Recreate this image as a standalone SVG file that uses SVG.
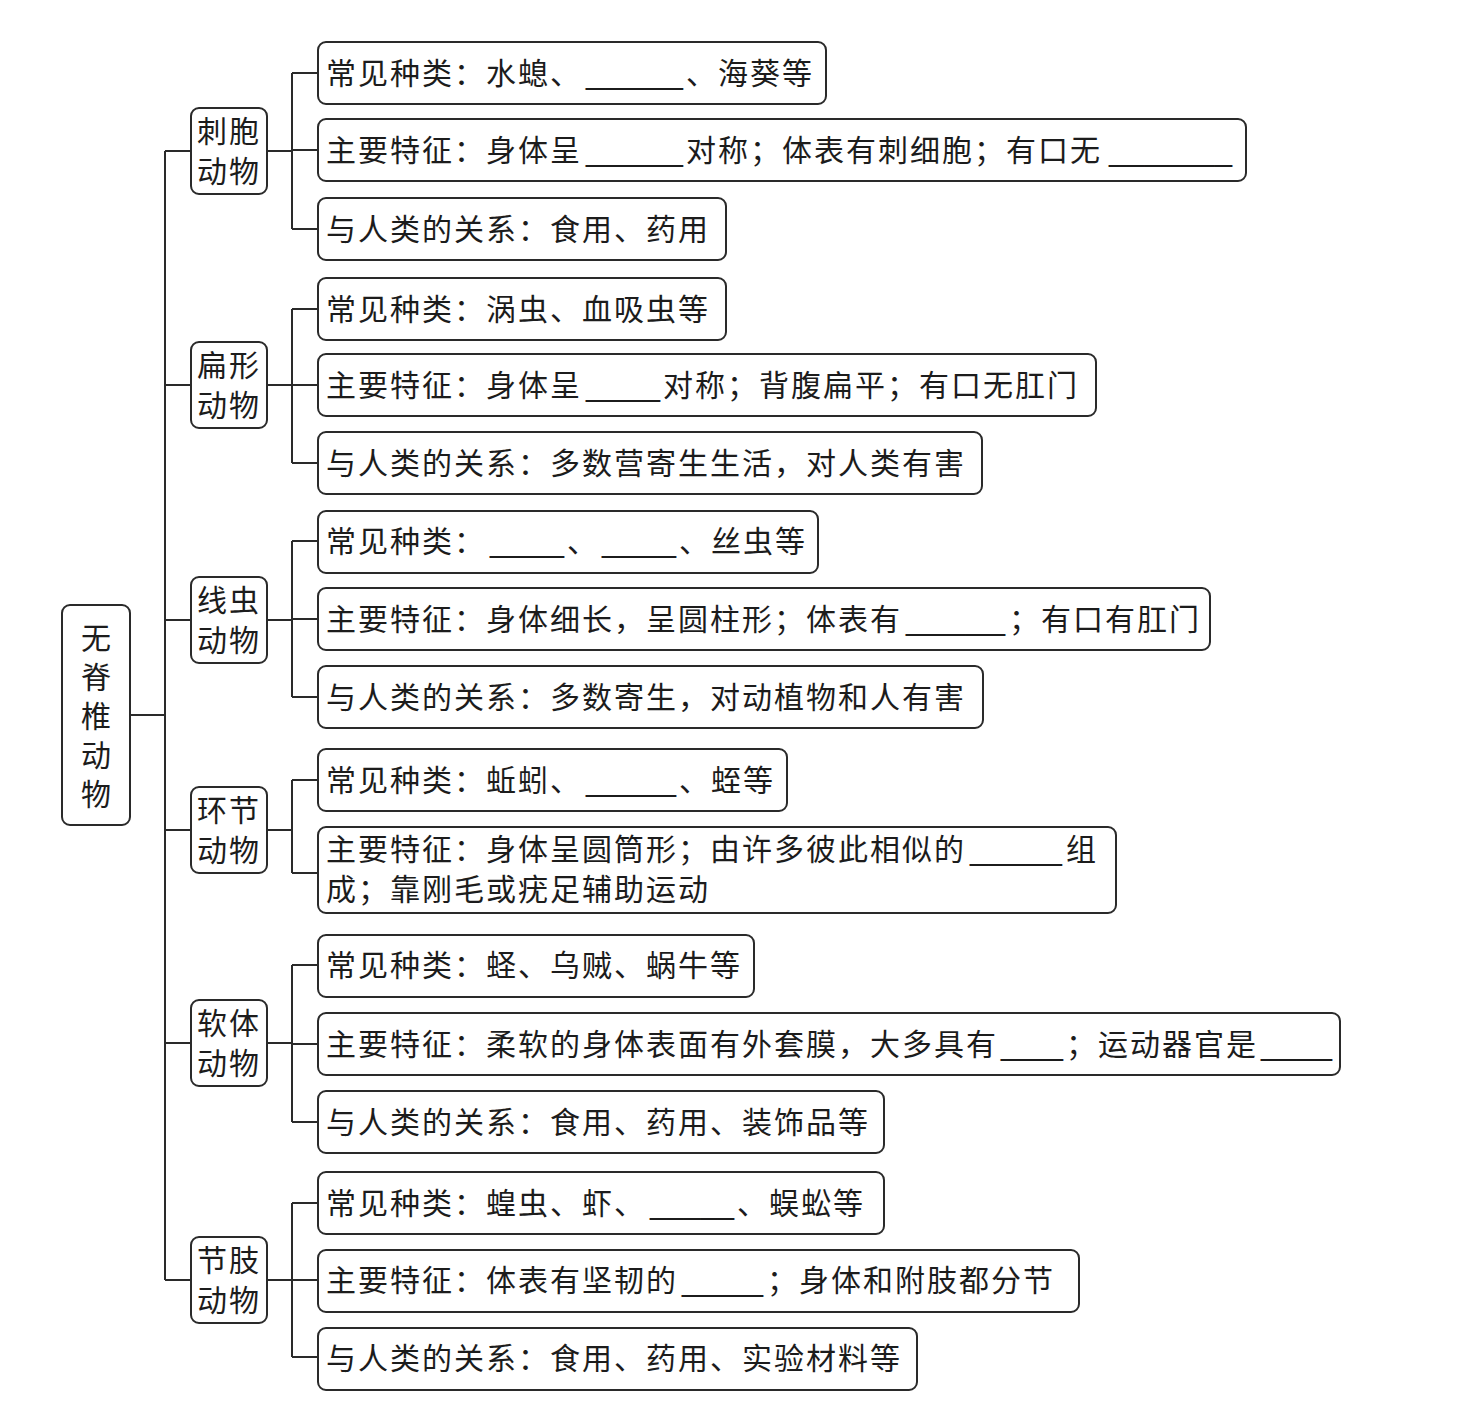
<svg xmlns="http://www.w3.org/2000/svg" width="1473" height="1428" viewBox="0 0 1473 1428">
<style>
.box{fill:#fff;stroke:#2a2a2a;stroke-width:2}
.conn{fill:none;stroke:#2a2a2a;stroke-width:2}
.t{font-family:"Noto Sans CJK SC","Noto Sans CJK TC",sans-serif;font-size:30px;letter-spacing:2px;fill:#1c1c1c}
.b{font-family:"Liberation Sans",sans-serif;letter-spacing:0}
.v{writing-mode:vertical-rl;letter-spacing:9px}
</style>
<rect width="1473" height="1428" fill="#fff"/>
<g id="connectors">
<path class="conn" d="M130 715H165M165 151V1280"/>
<path class="conn" d="M165 151H191M267 151H292M292 73V229M292 73H318M292 150H318M292 229H318"/>
<path class="conn" d="M165 385H191M267 385H292M292 309V463M292 309H318M292 385H318M292 463H318"/>
<path class="conn" d="M165 620H191M267 620H292M292 541V697M292 541H318M292 619H318M292 697H318"/>
<path class="conn" d="M165 830H191M267 830H292M292 780V873M292 780H318M292 873H318"/>
<path class="conn" d="M165 1043H191M267 1043H292M292 965V1122M292 965H318M292 1044H318M292 1122H318"/>
<path class="conn" d="M165 1280H191M267 1280H292M292 1203V1357M292 1203H318M292 1280H318M292 1357H318"/>
</g>
<g id="root">
<rect class="box" x="62" y="605" width="68" height="220" rx="8"/>
<text class="t v" x="96" y="623">无脊椎动物</text>
</g>
<g id="cat-cibao">
<rect class="box" x="191" y="108" width="76" height="86" rx="8"/>
<text class="t" x="197" y="142">刺胞</text><text class="t" x="197" y="182">动物</text>
</g>
<g id="cat-bianxing">
<rect class="box" x="191" y="342" width="76" height="86" rx="8"/>
<text class="t" x="197" y="376">扁形</text><text class="t" x="197" y="416">动物</text>
</g>
<g id="cat-xianchong">
<rect class="box" x="191" y="577" width="76" height="86" rx="8"/>
<text class="t" x="197" y="611">线虫</text><text class="t" x="197" y="651">动物</text>
</g>
<g id="cat-huanjie">
<rect class="box" x="191" y="787" width="76" height="86" rx="8"/>
<text class="t" x="197" y="821">环节</text><text class="t" x="197" y="861">动物</text>
</g>
<g id="cat-ruanti">
<rect class="box" x="191" y="1000" width="76" height="86" rx="8"/>
<text class="t" x="197" y="1034">软体</text><text class="t" x="197" y="1074">动物</text>
</g>
<g id="cat-jiezhi">
<rect class="box" x="191" y="1237" width="76" height="86" rx="8"/>
<text class="t" x="197" y="1271">节肢</text><text class="t" x="197" y="1311">动物</text>
</g>

<g id="cibao-1">
<rect class="box" x="318" y="42" width="508" height="62" rx="8"/>
<text class="t" x="326" y="84">常见种类：水螅、<tspan class="b" x="586" textLength="97" lengthAdjust="spacingAndGlyphs">_____</tspan><tspan x="686">、海葵等</tspan></text>
</g>
<g id="cibao-2">
<rect class="box" x="318" y="119" width="928" height="62" rx="8"/>
<text class="t" x="326" y="161">主要特征：身体呈<tspan class="b" x="586" textLength="97" lengthAdjust="spacingAndGlyphs">_____</tspan><tspan x="686">对称；体表有刺细胞；有口无</tspan><tspan class="b" x="1109" textLength="123" lengthAdjust="spacingAndGlyphs">_______</tspan></text>
</g>
<g id="cibao-3">
<rect class="box" x="318" y="198" width="408" height="62" rx="8"/>
<text class="t" x="326" y="240">与人类的关系：食用、药用</text>
</g>

<g id="bianxing-1">
<rect class="box" x="318" y="278" width="408" height="62" rx="8"/>
<text class="t" x="326" y="320">常见种类：涡虫、血吸虫等</text>
</g>
<g id="bianxing-2">
<rect class="box" x="318" y="354" width="778" height="62" rx="8"/>
<text class="t" x="326" y="396">主要特征：身体呈<tspan class="b" x="586" textLength="74" lengthAdjust="spacingAndGlyphs">____</tspan><tspan x="663">对称；背腹扁平；有口无肛门</tspan></text>
</g>
<g id="bianxing-3">
<rect class="box" x="318" y="432" width="664" height="62" rx="8"/>
<text class="t" x="326" y="474">与人类的关系：多数营寄生生活，对人类有害</text>
</g>

<g id="xianchong-1">
<rect class="box" x="318" y="511" width="500" height="62" rx="8"/>
<text class="t" x="326" y="552">常见种类：<tspan class="b" x="490" textLength="74" lengthAdjust="spacingAndGlyphs">____</tspan><tspan x="567">、</tspan><tspan class="b" x="602" textLength="74" lengthAdjust="spacingAndGlyphs">____</tspan><tspan x="679">、丝虫等</tspan></text>
</g>
<g id="xianchong-2">
<rect class="box" x="318" y="588" width="892" height="62" rx="8"/>
<text class="t" x="326" y="630">主要特征：身体细长，呈圆柱形；体表有<tspan class="b" x="906" textLength="99" lengthAdjust="spacingAndGlyphs">_____</tspan><tspan x="1009">；有口有肛门</tspan></text>
</g>
<g id="xianchong-3">
<rect class="box" x="318" y="666" width="665" height="62" rx="8"/>
<text class="t" x="326" y="708">与人类的关系：多数寄生，对动植物和人有害</text>
</g>

<g id="huanjie-1">
<rect class="box" x="318" y="749" width="469" height="62" rx="8"/>
<text class="t" x="326" y="791">常见种类：蚯蚓、<tspan class="b" x="586" textLength="90" lengthAdjust="spacingAndGlyphs">_____</tspan><tspan x="679">、蛭等</tspan></text>
</g>
<g id="huanjie-2">
<rect class="box" x="318" y="827" width="798" height="86" rx="8"/>
<text class="t" x="326" y="860">主要特征：身体呈圆筒形；由许多彼此相似的<tspan class="b" x="970" textLength="92" lengthAdjust="spacingAndGlyphs">_____</tspan><tspan x="1066">组</tspan></text>
<text class="t" x="326" y="900">成；靠刚毛或疣足辅助运动</text>
</g>

<g id="ruanti-1">
<rect class="box" x="318" y="935" width="436" height="62" rx="8"/>
<text class="t" x="326" y="976">常见种类：蛏、乌贼、蜗牛等</text>
</g>
<g id="ruanti-2">
<rect class="box" x="318" y="1013" width="1022" height="62" rx="8"/>
<text class="t" x="326" y="1055">主要特征：柔软的身体表面有外套膜，大多具有<tspan class="b" x="1001" textLength="62" lengthAdjust="spacingAndGlyphs">___</tspan><tspan x="1066">；运动器官是</tspan><tspan class="b" x="1261" textLength="71" lengthAdjust="spacingAndGlyphs">____</tspan></text>
</g>
<g id="ruanti-3">
<rect class="box" x="318" y="1091" width="566" height="62" rx="8"/>
<text class="t" x="326" y="1133">与人类的关系：食用、药用、装饰品等</text>
</g>

<g id="jiezhi-1">
<rect class="box" x="318" y="1172" width="566" height="62" rx="8"/>
<text class="t" x="326" y="1214">常见种类：蝗虫、虾、<tspan class="b" x="650" textLength="84" lengthAdjust="spacingAndGlyphs">_____</tspan><tspan x="737">、蜈蚣等</tspan></text>
</g>
<g id="jiezhi-2">
<rect class="box" x="318" y="1250" width="761" height="62" rx="8"/>
<text class="t" x="326" y="1291">主要特征：体表有坚韧的<tspan class="b" x="682" textLength="81" lengthAdjust="spacingAndGlyphs">____</tspan><tspan x="767">；身体和附肢都分节</tspan></text>
</g>
<g id="jiezhi-3">
<rect class="box" x="318" y="1328" width="599" height="62" rx="8"/>
<text class="t" x="326" y="1369">与人类的关系：食用、药用、实验材料等</text>
</g>
</svg>
